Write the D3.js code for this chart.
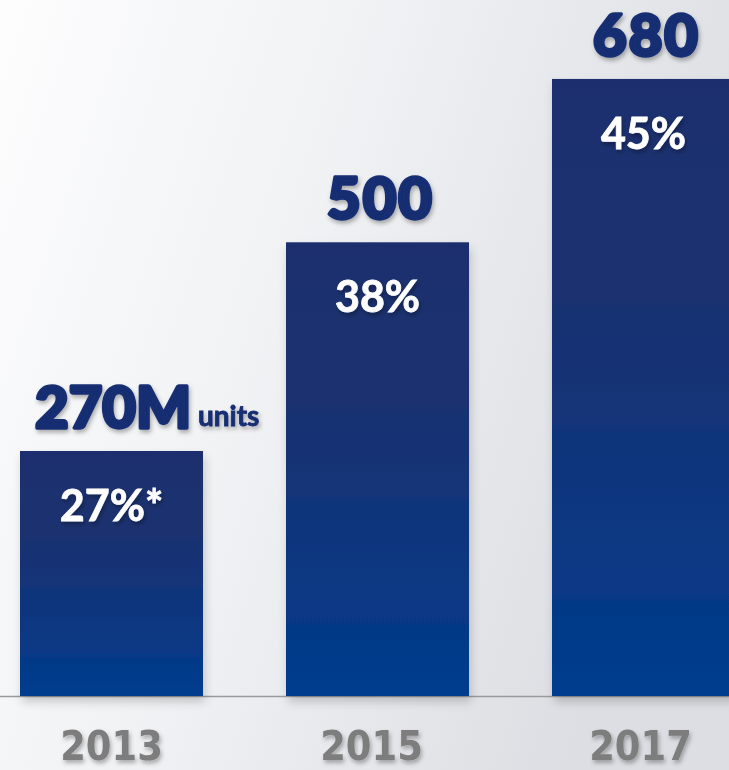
<!DOCTYPE html>
<html>
<head>
<meta charset="utf-8">
<script src="https://cdn.jsdelivr.net/npm/d3@7"></script>
<style>
  html, body { margin: 0; padding: 0; background: #fff; }
  svg { display: block; }
</style>
</head>
<body>
<svg id="chart" width="729" height="770"></svg>
<script>
// Shipments by year, in millions of units, and share of the market
const years = ["2013", "2015", "2017"];
const units = [270, 500, 680];
const valueLabels = ["270M", "500", "680"];
const shareLabels = ["27%*", "38%", "45%"];

const W = 729, H = 770;
const svg = d3.select("#chart");
const defs = svg.append("defs");

// Soft light background, white on the left fading to grey on the right
const bg = defs.append("linearGradient").attr("id", "bg")
  .attr("x1", 0).attr("y1", 0).attr("x2", 1).attr("y2", 0.35);
bg.append("stop").attr("offset", 0).attr("stop-color", "#fdfdfe");
bg.append("stop").attr("offset", 0.45).attr("stop-color", "#f1f2f4");
bg.append("stop").attr("offset", 1).attr("stop-color", "#dcdee3");
svg.append("rect").attr("width", W).attr("height", H).attr("fill", "url(#bg)");

// Bar fill: navy at the top, brighter blue at the bottom
const barGrad = defs.append("linearGradient").attr("id", "barGrad")
  .attr("x1", 0).attr("y1", 0).attr("x2", 0).attr("y2", 1);
barGrad.append("stop").attr("offset", 0).attr("stop-color", "#1b2f6e");
barGrad.append("stop").attr("offset", 0.35).attr("stop-color", "#1a3170");
barGrad.append("stop").attr("offset", 1).attr("stop-color", "#003c8e");

// Drop shadows
const sh = defs.append("filter").attr("id", "shadow")
  .attr("x", "-10%").attr("y", "-10%").attr("width", "130%").attr("height", "130%");
sh.append("feDropShadow").attr("dx", 1.5).attr("dy", 3).attr("stdDeviation", 2)
  .attr("flood-color", "#000").attr("flood-opacity", 0.3);
const bsh = defs.append("filter").attr("id", "barShadow")
  .attr("x", "-10%").attr("y", "-5%").attr("width", "125%").attr("height", "115%");
bsh.append("feDropShadow").attr("dx", 2).attr("dy", 6).attr("stdDeviation", 5)
  .attr("flood-color", "#000").attr("flood-opacity", 0.18);

const baseY = 696;
const x = d3.scaleBand().domain(years).range([20, 735]).paddingInner(0.312).paddingOuter(0);
const y = d3.scaleLinear().domain([0, 767]).range([baseY, 0]);

// Baseline
svg.append("line")
  .attr("x1", 0).attr("x2", W).attr("y1", baseY + 0.5).attr("y2", baseY + 0.5)
  .attr("stroke", "#9a9a9c").attr("stroke-width", 1.6);

const g = svg.append("g");
g.selectAll("rect.bar").data(years).join("rect")
  .attr("class", "bar")
  .attr("x", d => x(d))
  .attr("width", x.bandwidth())
  .attr("y", (d, i) => y(units[i]))
  .attr("height", (d, i) => baseY - y(units[i]))
  .attr("fill", "url(#barGrad)")
  .attr("filter", "url(#barShadow)");

// Share labels inside the bars
g.selectAll("text.share").data(years).join("text")
  .attr("class", "share")
  .attr("x", d => x(d) + x.bandwidth() / 2)
  .attr("y", (d, i) => y(units[i]) + 70)
  .attr("text-anchor", "middle")
  .attr("fill", "#ffffff")
  .attr("stroke", "#ffffff").attr("stroke-width", 0.8)
  .attr("font-family", "Lato, 'Open Sans', sans-serif")
  .attr("font-weight", 700)
  .attr("font-size", 43)
  .attr("filter", "url(#shadow)")
  .text((d, i) => shareLabels[i]);

// Unit values above the bars
const vals = g.selectAll("text.val").data(years).join("text")
  .attr("class", "val")
  .attr("x", d => x(d) + x.bandwidth() / 2 + 3)
  .attr("y", (d, i) => y(units[i]) - 23)
  .attr("text-anchor", "middle")
  .attr("fill", "#182d72")
  .attr("stroke", "#182d72").attr("stroke-width", 3.5).attr("stroke-linejoin", "round")
  .attr("font-family", "Lato, 'Open Sans', sans-serif")
  .attr("font-weight", 900)
  .attr("font-size", 58)
  .attr("letter-spacing", 2)
  .attr("filter", "url(#shadow)")
  .text((d, i) => valueLabels[i]);
vals.filter((d, i) => i === 0).attr("text-anchor", "start").attr("x", 35).attr("letter-spacing", 0);

g.append("text")
  .attr("x", 198).attr("y", y(units[0]) - 25)
  .attr("fill", "#182d72")
  .attr("stroke", "#182d72").attr("stroke-width", 0.8)
  .attr("font-family", "Lato, 'Open Sans', sans-serif")
  .attr("font-weight", 700)
  .attr("font-size", 28)
  .attr("filter", "url(#shadow)")
  .text("units");

// Year labels under the baseline (slight nudges keep them optically centred)
const yearNudge = [0, -6, -3];
g.selectAll("text.year").data(years).join("text")
  .attr("class", "year")
  .attr("x", (d, i) => x(d) + x.bandwidth() / 2 + yearNudge[i])
  .attr("y", 760)
  .attr("text-anchor", "middle")
  .attr("fill", "#7d7d7d")
  .attr("font-family", "'Liberation Sans Narrow', 'DejaVu Sans Condensed', sans-serif")
  .attr("font-stretch", "condensed")
  .attr("font-weight", 700)
  .attr("font-size", 41)
  .attr("filter", "url(#shadow)")
  .text(d => d);
</script>
</body>
</html>
